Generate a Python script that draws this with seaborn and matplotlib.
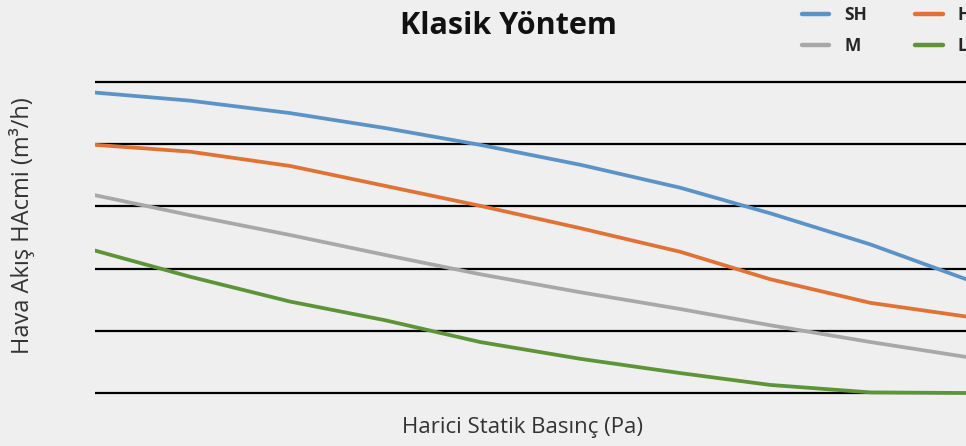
import numpy as np
import pandas as pd
import seaborn as sns
from matplotlib import pyplot as plt

# Values (gridline units 0..5)
pressure = [0, 10.9, 22.4, 33.3, 44.2, 55.7, 67.2, 77.5, 89.0, 100]
sh_flow = [4.83, 4.70, 4.50, 4.26, 3.99, 3.67, 3.30, 2.89, 2.39, 1.83]
h_flow = [3.99, 3.88, 3.65, 3.33, 3.01, 2.65, 2.27, 1.83, 1.45, 1.23]
m_flow = [3.18, 2.86, 2.54, 2.22, 1.91, 1.62, 1.35, 1.09, 0.82, 0.58]
l_flow = [2.29, 1.87, 1.47, 1.17, 0.82, 0.55, 0.32, 0.13, 0.01, 0.0]
series = ["SH", "H", "M", "L"]
colors = ["#5b93c7", "#e07236", "#a8a8a8", "#5c9437"]
grid_ticks = [0, 1, 2, 3, 4, 5]


def main():
    df = pd.concat([
        pd.DataFrame({"x": pressure, "y": vals, "Type": name})
        for name, vals in zip(series, [sh_flow, h_flow, m_flow, l_flow])
    ])

    sns.set_style("white")
    plt.rcParams["font.family"] = ["Open Sans", "Noto Sans", "DejaVu Sans"]
    bg = "#efefef"

    fig = plt.figure(figsize=(9.66, 4.46), dpi=100, facecolor=bg)
    # axes placed in pixels: left 95, right 966, y=0 at 393px, y=5 at 82px
    unit = 62.2
    bottom_px = 393 + 0.1 * unit
    top_px = 82 - 0.1 * unit
    ax = fig.add_axes([95 / 966, 1 - bottom_px / 446, 871 / 966, (bottom_px - top_px) / 446])
    ax.set_facecolor(bg)

    sns.lineplot(data=df, x="x", y="y", hue="Type", hue_order=series,
                 palette=colors, linewidth=2.7, legend=False, ax=ax, zorder=3)
    for ln in ax.lines:
        ln.set_solid_joinstyle("round")
        ln.set_solid_capstyle("round")

    ax.set_xlim(0, 100)
    ax.set_ylim(-0.1, 5.1)
    ax.set_yticks(grid_ticks)
    ax.set_xticks([])
    ax.yaxis.grid(True, color="black", linewidth=1.6)
    ax.tick_params(left=False, labelleft=False)
    for s in ax.spines.values():
        s.set_visible(False)
    ax.set_xlabel("")
    ax.set_ylabel("")

    fig.text(508 / 966, 1 - 26 / 446, "Klasik Yöntem", ha="center", va="center",
             fontsize=22, fontweight="bold", color="#111111")
    fig.text(523 / 966, 1 - 427 / 446, "Harici Statik Basınç (Pa)", ha="center",
             va="center", fontsize=16, color="#333333")
    fig.text(22 / 966, 1 - 226 / 446, "Hava Akış HAcmi (m³/h)", ha="center",
             va="center", rotation=90, fontsize=17, color="#333333")

    handles = [plt.Line2D([], [], color=c, linewidth=3.2, solid_capstyle="round") for c in colors]
    # column order: SH, M | H, L
    order = [0, 2, 1, 3]
    fig.legend([handles[i] for i in order], [series[i] for i in order],
               ncol=2, loc="upper left", bbox_to_anchor=(786 / 966, 1 + 10 / 446),
               frameon=False, handlelength=1.6, handletextpad=0.85,
               columnspacing=2.75, labelspacing=0.75,
               prop={"weight": "bold", "size": 12.5})

    plt.savefig("out.png", dpi=100, facecolor=bg)


if __name__ == "__main__":
    main()
